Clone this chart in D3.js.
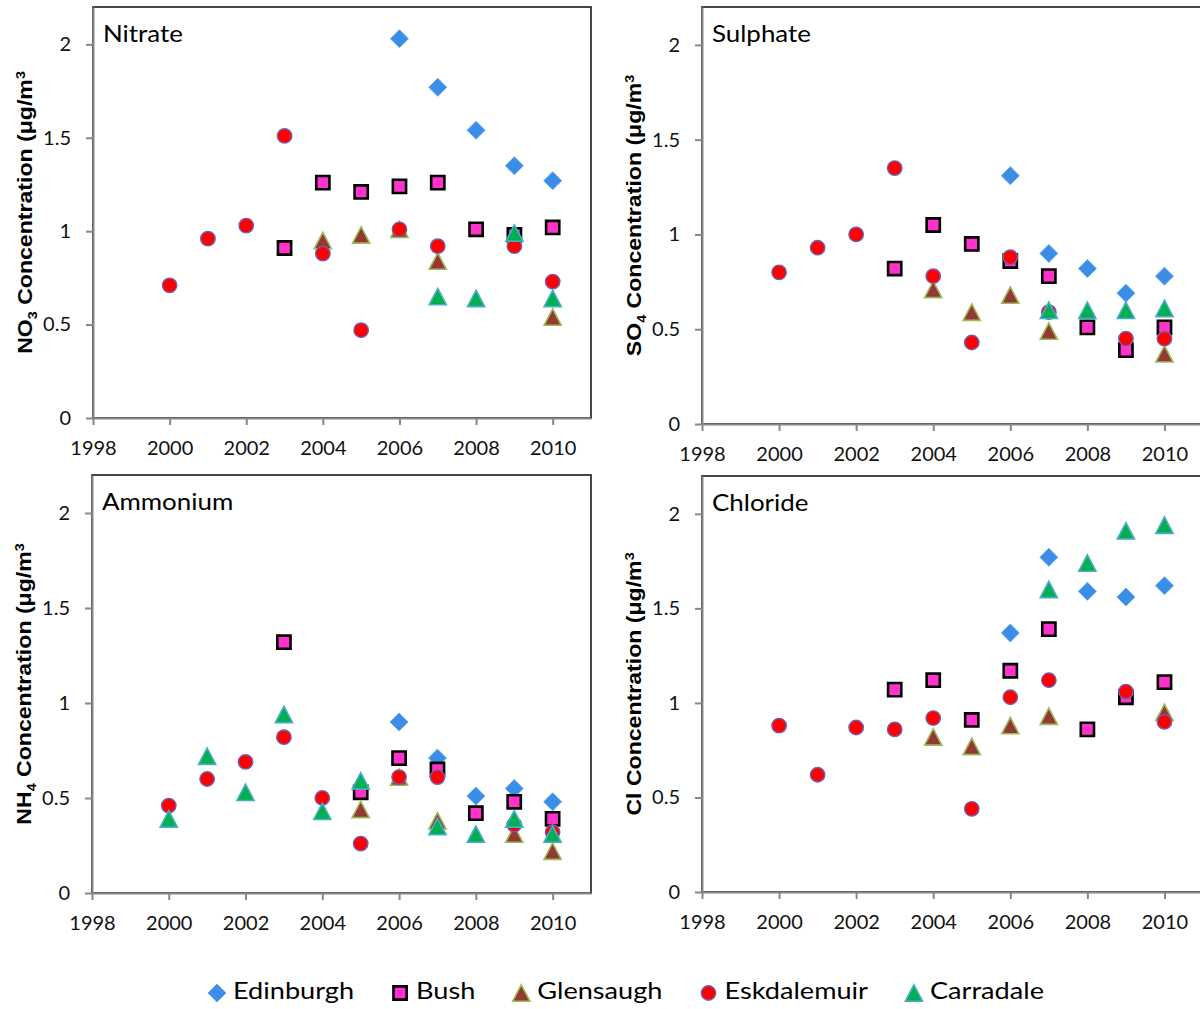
<!DOCTYPE html>
<html>
<head>
<meta charset="utf-8">
<script src="https://cdn.jsdelivr.net/npm/d3@7"></script>
<style>
  body { margin: 0; background: #fff; }
  svg { display: block; }
</style>
</head>
<body>
<div id="chart"></div>
<script>
// years on the x axis and the tick values
const years = [2000, 2001, 2002, 2003, 2004, 2005, 2006, 2007, 2008, 2009, 2010];
const xTicks = [1998, 2000, 2002, 2004, 2006, 2008, 2010];
const yTicks = [0, 0.5, 1, 1.5, 2];
const sites = ["Edinburgh", "Bush", "Glensaugh", "Eskdalemuir", "Carradale"];

// Nitrate (NO3)
const nitrateEdinburgh   = [null, null, null, null, null, null, 2.03, 1.77, 1.54, 1.35, 1.27];
const nitrateBush        = [null, null, null, 0.91, 1.26, 1.21, 1.24, 1.26, 1.01, 0.98, 1.02];
const nitrateGlensaugh   = [null, null, null, null, 0.95, 0.98, 1.01, 0.84, null, null, 0.54];
const nitrateEskdalemuir = [0.71, 0.96, 1.03, 1.51, 0.88, 0.47, 1.01, 0.92, null, 0.92, 0.73];
const nitrateCarradale   = [null, null, null, null, null, null, null, 0.65, 0.64, 0.99, 0.64];

// Sulphate (SO4)
const sulphateEdinburgh   = [null, null, null, null, null, null, 1.31, 0.90, 0.82, 0.69, 0.78];
const sulphateBush        = [null, null, null, 0.82, 1.05, 0.95, 0.86, 0.78, 0.51, 0.39, 0.51];
const sulphateGlensaugh   = [null, null, null, null, 0.71, 0.59, 0.68, 0.49, null, null, 0.37];
const sulphateEskdalemuir = [0.80, 0.93, 1.00, 1.35, 0.78, 0.43, 0.88, 0.59, null, 0.45, 0.45];
const sulphateCarradale   = [null, null, null, null, null, null, null, 0.60, 0.60, 0.60, 0.61];

// Ammonium (NH4)
const ammoniumEdinburgh   = [null, null, null, null, null, null, 0.90, 0.71, 0.51, 0.55, 0.48];
const ammoniumBush        = [null, null, null, 1.32, null, 0.53, 0.71, 0.65, 0.42, 0.48, 0.39];
const ammoniumGlensaugh   = [null, null, null, null, null, 0.44, 0.61, 0.38, null, 0.31, 0.22];
const ammoniumEskdalemuir = [0.46, 0.60, 0.69, 0.82, 0.50, 0.26, 0.61, 0.61, null, 0.36, 0.32];
const ammoniumCarradale   = [0.39, 0.72, 0.53, 0.94, 0.43, 0.59, null, 0.35, 0.31, 0.39, 0.31];

// Chloride (Cl)
const chlorideEdinburgh   = [null, null, null, null, null, null, 1.37, 1.77, 1.59, 1.56, 1.62];
const chlorideBush        = [null, null, null, 1.07, 1.12, 0.91, 1.17, 1.39, 0.86, 1.03, 1.11];
const chlorideGlensaugh   = [null, null, null, null, 0.82, 0.77, 0.88, 0.93, null, null, 0.95];
const chlorideEskdalemuir = [0.88, 0.62, 0.87, 0.86, 0.92, 0.44, 1.03, 1.12, null, 1.06, 0.90];
const chlorideCarradale   = [null, null, null, null, null, null, null, 1.60, 1.74, 1.91, 1.94];

// marker styles per site
const styles = {
  Edinburgh:   { shape: "diamond",  fill: "#3a8ee6", stroke: "#6aaaf0", sw: 1 },
  Bush:        { shape: "square",   fill: "#ff33cc", stroke: "#000000", sw: 2.6 },
  Glensaugh:   { shape: "triangle", fill: "#953735", stroke: "#9bbb59", sw: 1.6 },
  Eskdalemuir: { shape: "circle",   fill: "#ff0000", stroke: "#7060b0", sw: 1.4 },
  Carradale:   { shape: "triangle", fill: "#00b050", stroke: "#4bacc6", sw: 1.6 }
};

function markerPath(shape) {
  if (shape === "diamond") return "M0,-9L9,0L0,9L-9,0Z";
  if (shape === "square") return "M-6.6,-6.6H6.6V6.6H-6.6Z";
  if (shape === "triangle") return "M0,-8.2L8.6,8.2H-8.6Z";
  return d3.symbol().type(d3.symbolCircle).size(Math.PI * 7.2 * 7.2)();
}

const panels = [
  { title: "Nitrate",  chem: "NO", sub: "3", x: 93,  y: 7,   w: 498, h: 411,
    series: [nitrateEdinburgh, nitrateBush, nitrateGlensaugh, nitrateEskdalemuir, nitrateCarradale] },
  { title: "Sulphate", chem: "SO", sub: "4", x: 702, y: 7,   w: 501, h: 417,
    series: [sulphateEdinburgh, sulphateBush, sulphateGlensaugh, sulphateEskdalemuir, sulphateCarradale] },
  { title: "Ammonium", chem: "NH", sub: "4", x: 92,  y: 475, w: 499, h: 418,
    series: [ammoniumEdinburgh, ammoniumBush, ammoniumGlensaugh, ammoniumEskdalemuir, ammoniumCarradale] },
  { title: "Chloride", chem: "Cl", sub: "",  x: 702, y: 476, w: 501, h: 416,
    series: [chlorideEdinburgh, chlorideBush, chlorideGlensaugh, chlorideEskdalemuir, chlorideCarradale] }
];

const svg = d3.select("#chart").append("svg")
    .attr("width", 1200)
    .attr("height", 1009);

const tickFont = "Lato, 'Open Sans', sans-serif";

panels.forEach(function(p) {
  const g = svg.append("g").attr("transform", `translate(${p.x},${p.y})`);

  const x = d3.scaleLinear().domain([1998, 2011]).range([0, p.w]);
  const y = d3.scaleLinear().domain([0, 2.2]).range([p.h, 0]);

  // plot frame (top and right show black)
  g.append("rect")
    .attr("width", p.w).attr("height", p.h)
    .attr("fill", "none").attr("stroke", "#1a1a1a").attr("stroke-width", 1.6);

  // axes
  const xAxis = g.append("g")
    .attr("transform", `translate(0,${p.h})`)
    .call(d3.axisBottom(x).tickValues(xTicks).tickFormat(d3.format("d")).tickSize(7).tickSizeOuter(0).tickPadding(16));
  const yAxis = g.append("g")
    .call(d3.axisLeft(y).tickValues(yTicks).tickFormat(d => d).tickSize(7).tickSizeOuter(0).tickPadding(15));

  [xAxis, yAxis].forEach(function(a) {
    a.select(".domain").attr("stroke", "#878787").attr("stroke-width", 2);
    a.selectAll(".tick line").attr("stroke", "#878787").attr("stroke-width", 2);
    a.selectAll(".tick text")
      .attr("fill", "#111")
      .style("font-family", tickFont)
      .style("font-size", "20px");
  });

  // panel label
  g.append("text")
    .attr("transform", "translate(10,35) scale(1.08,1)")
    .style("font-family", tickFont)
    .style("font-size", "24px")
    .attr("fill", "#000")
    .text(p.title);

  // y axis title
  const t = g.append("text")
    .attr("transform", `translate(-61,${p.h / 2}) rotate(-90) scale(1.1,1)`)
    .attr("text-anchor", "middle")
    .style("font-family", "'Liberation Sans', Arial, sans-serif")
    .style("font-weight", "bold")
    .style("font-size", "21px")
    .attr("fill", "#000");
  t.append("tspan").text(p.chem);
  if (p.sub) {
    t.append("tspan").attr("dy", 5).style("font-size", "13px").text(p.sub);
    t.append("tspan").attr("dy", -5).text(" Concentration (\u03bcg/m");
  } else {
    t.append("tspan").text(" Concentration (\u03bcg/m");
  }
  t.append("tspan").attr("dy", -7).style("font-size", "13px").text("3");

  // markers, one series after another so later sites sit on top
  p.series.forEach(function(vals, si) {
    const st = styles[sites[si]];
    const pts = years.map((yr, i) => ({ year: yr, v: vals[i] })).filter(d => d.v !== null);
    g.append("g").selectAll("path")
      .data(pts)
      .join("path")
        .attr("transform", d => `translate(${x(d.year)},${y(d.v)})`)
        .attr("d", markerPath(st.shape))
        .attr("fill", st.fill)
        .attr("stroke", st.stroke)
        .attr("stroke-width", st.sw)
        .attr("stroke-linejoin", "miter");
  });
});

// legend along the bottom
const legend = svg.append("g").attr("transform", "translate(0,993)");
const legendStretch = 1.18;
let lx = 217;
sites.forEach(function(s) {
  const st = styles[s];
  legend.append("path")
    .attr("transform", `translate(${lx},0)`)
    .attr("d", markerPath(st.shape))
    .attr("fill", st.fill)
    .attr("stroke", st.stroke)
    .attr("stroke-width", st.sw);
  const txt = legend.append("text")
    .attr("transform", `translate(${lx + 16},6) scale(${legendStretch},1)`)
    .style("font-family", tickFont)
    .style("font-size", "23px")
    .attr("fill", "#000")
    .text(s);
  lx += 16 + txt.node().getComputedTextLength() * legendStretch + 46;
});
</script>
</body>
</html>
